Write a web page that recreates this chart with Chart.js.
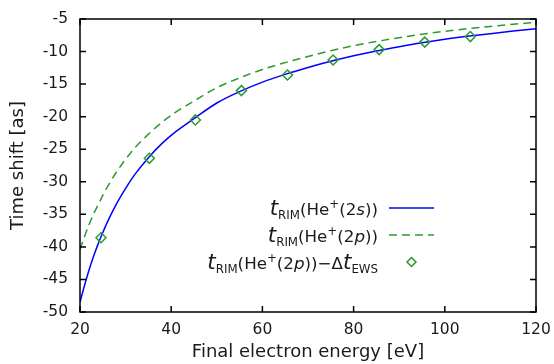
<!DOCTYPE html>
<html>
<head>
<meta charset="utf-8">
<script src="https://cdn.jsdelivr.net/npm/chart.js@4.4.0/dist/chart.umd.min.js"></script>
<style>
  html, body { margin: 0; padding: 0; background: #fff; }
  #wrap { width: 554px; height: 364px; }
</style>
</head>
<body>
<div id="wrap"><canvas id="chart"></canvas></div>
<script>
// curve sample energies (eV) and values (as)
const energyGrid = [20, 21, 22, 23, 24, 25, 26, 28, 30, 32, 35, 38, 41, 45, 50, 55, 60, 65, 70, 75, 80, 85, 90, 95, 100, 105, 110, 115, 120];
const rim2s = [-48.5, -45.9, -43.5, -41.4, -39.5, -37.8, -36.2, -33.4, -31.0, -28.9, -26.3, -24.1, -22.3, -20.3, -17.9, -16.15, -14.7, -13.5, -12.45, -11.5, -10.65, -9.9, -9.25, -8.65, -8.12, -7.66, -7.25, -6.86, -6.5];
const rim2p = [-40.4, -38.4, -36.55, -34.9, -33.5, -32.1, -30.8, -28.5, -26.55, -24.8, -22.7, -20.85, -19.3, -17.6, -15.55, -14.05, -12.75, -11.7, -10.75, -9.87, -9.1, -8.45, -7.87, -7.34, -6.88, -6.49, -6.14, -5.81, -5.5];
// diamonds: t_RIM(2p) - dt_EWS
const ptEnergy = [24.6, 35.2, 45.3, 55.4, 65.5, 75.5, 85.6, 95.6, 105.6];
const ptShift = [-38.6, -26.4, -20.5, -16.0, -13.6, -11.3, -9.7, -8.55, -7.7];

const xTicks = [20, 40, 60, 80, 100, 120];
const yTicks = [-50, -45, -40, -35, -30, -25, -20, -15, -10, -5];

const FONT = '"DejaVu Sans"';
const BLUE = "#0000ff";
const GREEN = "#2d9a2d";

const toXY = (xs, ys) => xs.map((x, i) => ({ x, y: ys[i] }));

// legend text pieces (math style labels)
const fMain = `16.7px ${FONT}`;
const fBig = `italic 21.5px ${FONT}`;
const fSub = `11.8px ${FONT}`;
const fIt = `italic 16.7px ${FONT}`;
function rimLabel(orb) {
  return [
    { text: "t", font: fBig },
    { text: "RIM", font: fSub, dy: 4 },
    { text: "(He", font: fMain },
    { text: "+", font: fSub, dy: -7 },
    { text: "(2", font: fMain },
    { text: orb, font: fIt },
    { text: "))", font: fMain },
  ];
}
const legendRows = [
  { segs: rimLabel("s"), kind: "solid" },
  { segs: rimLabel("p"), kind: "dash" },
  { segs: rimLabel("p").concat([
      { text: "\u2212\u0394", font: fMain },
      { text: "t", font: fBig },
      { text: "EWS", font: fSub, dy: 4 },
    ]), kind: "point" },
];

function drawRich(ctx, segs, xRight, base) {
  let w = 0;
  segs.forEach((s) => { ctx.font = s.font; w += ctx.measureText(s.text).width; });
  let x = xRight - w;
  segs.forEach((s) => {
    ctx.font = s.font;
    ctx.fillText(s.text, x, base + (s.dy || 0));
    x += ctx.measureText(s.text).width;
  });
}

const frameAndTicks = {
  id: "frameAndTicks",
  afterDatasetsDraw(chart) {
    const { ctx, chartArea: a, scales: { x, y } } = chart;
    ctx.save();
    ctx.strokeStyle = "#000";
    ctx.lineWidth = 1.5;
    ctx.beginPath();
    x.ticks.forEach((t) => {
      const px = x.getPixelForValue(t.value);
      ctx.moveTo(px, a.bottom); ctx.lineTo(px, a.bottom - 6);
      ctx.moveTo(px, a.top); ctx.lineTo(px, a.top + 6);
    });
    y.ticks.forEach((t) => {
      const py = y.getPixelForValue(t.value);
      ctx.moveTo(a.left, py); ctx.lineTo(a.left + 6, py);
      ctx.moveTo(a.right, py); ctx.lineTo(a.right - 6, py);
    });
    ctx.stroke();
    ctx.strokeRect(a.left, a.top, a.right - a.left, a.bottom - a.top);
    ctx.restore();
  },
};

const keyLegend = {
  id: "keyLegend",
  afterDraw(chart) {
    const { ctx, chartArea: a } = chart;
    const textRight = a.right - 158;
    const x0 = a.right - 147, x1 = a.right - 102;
    ctx.save();
    ctx.fillStyle = "#1a1a1a";
    ctx.textBaseline = "alphabetic";
    legendRows.forEach((row, i) => {
      const cy = 208 + i * 27;
      drawRich(ctx, row.segs, textRight, cy + 7);
      ctx.lineWidth = 1.5;
      if (row.kind === "point") {
        const cx = (x0 + x1) / 2, r = 4.5;
        ctx.strokeStyle = GREEN;
        ctx.beginPath();
        ctx.moveTo(cx, cy - r); ctx.lineTo(cx + r, cy); ctx.lineTo(cx, cy + r); ctx.lineTo(cx - r, cy);
        ctx.closePath();
        ctx.stroke();
      } else {
        ctx.strokeStyle = row.kind === "solid" ? BLUE : GREEN;
        ctx.setLineDash(row.kind === "dash" ? [8, 5] : []);
        ctx.beginPath();
        ctx.moveTo(x0, cy); ctx.lineTo(x1, cy);
        ctx.stroke();
        ctx.setLineDash([]);
      }
    });
    ctx.restore();
  },
};

new Chart(document.getElementById("chart"), {
  type: "line",
  data: {
    datasets: [
      {
        label: "t_RIM(He+(2p))-dt_EWS",
        type: "scatter",
        data: toXY(ptEnergy, ptShift),
        pointStyle: "rectRot",
        pointRadius: 5,
        borderColor: GREEN,
        backgroundColor: "rgba(0,0,0,0)",
        borderWidth: 1.5,
        order: 0,
      },
      {
        label: "t_RIM(He+(2s))",
        data: toXY(energyGrid, rim2s),
        borderColor: BLUE,
        borderWidth: 1.5,
        pointRadius: 0,
        cubicInterpolationMode: "monotone",
        fill: false,
        order: 1,
      },
      {
        label: "t_RIM(He+(2p))",
        data: toXY(energyGrid, rim2p),
        borderColor: GREEN,
        borderWidth: 1.5,
        borderDash: [8, 5],
        pointRadius: 0,
        cubicInterpolationMode: "monotone",
        fill: false,
        order: 2,
      },
    ],
  },
  options: {
    responsive: true,
    maintainAspectRatio: false,
    animation: false,
    layout: { padding: { top: 19, right: 18, left: 0, bottom: 0 } },
    plugins: { legend: { display: false }, tooltip: { enabled: false } },
    scales: {
      x: {
        type: "linear",
        min: 20,
        max: 120,
        afterBuildTicks: (s) => { s.ticks = xTicks.map((v) => ({ value: v })); },
        afterFit: (s) => { s.height = 52; s.paddingLeft = 0; s.paddingRight = 0; },
        grid: { display: false, drawTicks: false },
        border: { display: false },
        ticks: { padding: 9, color: "#1a1a1a", font: { family: "DejaVu Sans", size: 15.5 }, maxRotation: 0 },
        title: {
          display: true,
          text: "Final electron energy [eV]",
          color: "#1a1a1a",
          font: { family: "DejaVu Sans", size: 18 },
          padding: { top: 0, bottom: 1 },
        },
      },
      y: {
        type: "linear",
        min: -50,
        max: -5,
        afterBuildTicks: (s) => { s.ticks = yTicks.map((v) => ({ value: v })); },
        afterFit: (s) => { s.width = 80; s.paddingTop = 0; s.paddingBottom = 0; },
        grid: { display: false, drawTicks: false },
        border: { display: false },
        ticks: { padding: 12, color: "#1a1a1a", font: { family: "DejaVu Sans", size: 15.5 } },
        title: {
          display: true,
          text: "Time shift [as]",
          color: "#1a1a1a",
          font: { family: "DejaVu Sans", size: 18 },
          padding: { top: 8, bottom: 0 },
        },
      },
    },
  },
  plugins: [frameAndTicks, keyLegend],
});
</script>
</body>
</html>
